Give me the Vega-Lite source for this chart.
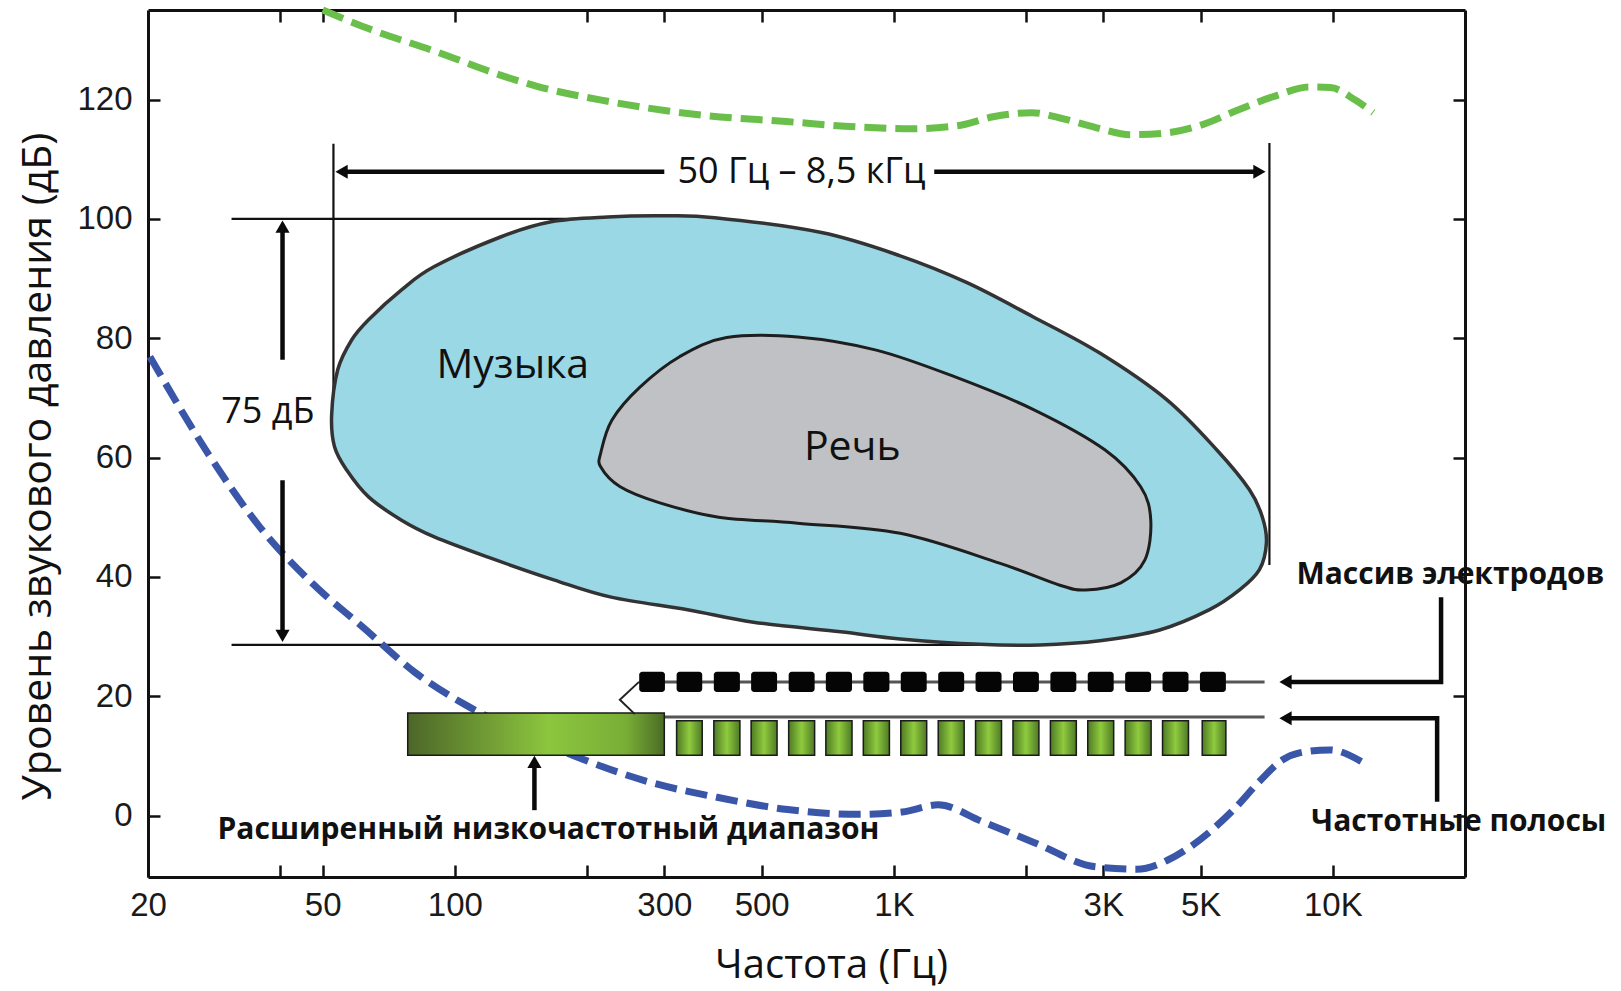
{
  "$schema": "https://vega.github.io/schema/vega-lite/v6.json",
  "width": 1317,
  "height": 867,
  "autosize": {"type": "none"},
  "padding": {"left": 148, "top": 10, "right": 156, "bottom": 114},
  "background": "white",
  "config": {"view": {"stroke": null}},
  "datasets": {
    "green": [
      {"f": 50, "db": 135}, {"f": 64, "db": 131.8}, {"f": 90, "db": 128.1}, {"f": 128, "db": 124.0},
      {"f": 154, "db": 122.2}, {"f": 223, "db": 119.7}, {"f": 363, "db": 117.4}, {"f": 570, "db": 116.3},
      {"f": 826, "db": 115.4}, {"f": 1096, "db": 115.1}, {"f": 1394, "db": 115.6}, {"f": 1683, "db": 117.1},
      {"f": 2063, "db": 117.8}, {"f": 2390, "db": 116.9}, {"f": 2885, "db": 115.3}, {"f": 3466, "db": 114.1},
      {"f": 4180, "db": 114.4}, {"f": 5050, "db": 115.8}, {"f": 6100, "db": 118.3}, {"f": 7330, "db": 120.5},
      {"f": 8840, "db": 122.1}, {"f": 9870, "db": 122.0}, {"f": 11250, "db": 119.9}, {"f": 12360, "db": 117.8}
    ],
    "blue": [
      {"f": 20.2, "db": 76.9}, {"f": 27.5, "db": 60.5}, {"f": 36, "db": 48.3}, {"f": 47.2, "db": 39.0},
      {"f": 61.9, "db": 31.5}, {"f": 81.1, "db": 24.0}, {"f": 106, "db": 18.5}, {"f": 139, "db": 14.2},
      {"f": 193, "db": 9.6}, {"f": 281, "db": 5.5}, {"f": 393, "db": 3.1}, {"f": 573, "db": 1.0},
      {"f": 834, "db": 0.2}, {"f": 1045, "db": 0.6}, {"f": 1262, "db": 1.8}, {"f": 1589, "db": -1.0},
      {"f": 2084, "db": -4.5}, {"f": 2881, "db": -8.6}, {"f": 3577, "db": -9.0}, {"f": 4200, "db": -7.5},
      {"f": 4720, "db": -5.3}, {"f": 5910, "db": 0.8}, {"f": 6840, "db": 5.9}, {"f": 7670, "db": 9.3},
      {"f": 8390, "db": 10.5}, {"f": 9820, "db": 11.0}, {"f": 11780, "db": 8.8}
    ],
    "music": [
      {"o": 1, "f": 52.4, "db": 67.1}, {"o": 2, "f": 54.1, "db": 74.7}, {"o": 3, "f": 58.2, "db": 79.7},
      {"o": 4, "f": 63.6, "db": 83.1}, {"o": 5, "f": 75.6, "db": 88.1}, {"o": 6, "f": 89.8, "db": 92.0},
      {"o": 7, "f": 127.5, "db": 97.0}, {"o": 8, "f": 165.7, "db": 99.5}, {"o": 9, "f": 223, "db": 100.3},
      {"o": 10, "f": 295, "db": 100.5}, {"o": 11, "f": 391, "db": 100.2}, {"o": 12, "f": 684, "db": 97.7},
      {"o": 13, "f": 1034, "db": 93.8}, {"o": 14, "f": 1468, "db": 89.3}, {"o": 15, "f": 2074, "db": 83.6},
      {"o": 16, "f": 2946, "db": 77.5}, {"o": 17, "f": 4183, "db": 69.7}, {"o": 18, "f": 5436, "db": 61.3},
      {"o": 19, "f": 6458, "db": 54.6}, {"o": 20, "f": 6911, "db": 50.0}, {"o": 21, "f": 7058, "db": 45.7},
      {"o": 22, "f": 6804, "db": 41.2}, {"o": 23, "f": 6130, "db": 37.8}, {"o": 24, "f": 5238, "db": 34.5},
      {"o": 25, "f": 4032, "db": 31.1}, {"o": 26, "f": 2946, "db": 29.3}, {"o": 27, "f": 2152, "db": 28.6},
      {"o": 28, "f": 1572, "db": 28.7}, {"o": 29, "f": 1034, "db": 29.6}, {"o": 30, "f": 756, "db": 30.8},
      {"o": 31, "f": 479, "db": 32.4}, {"o": 32, "f": 339, "db": 34.5}, {"o": 33, "f": 227, "db": 36.6},
      {"o": 34, "f": 168, "db": 39.5}, {"o": 35, "f": 119, "db": 43.3}, {"o": 36, "f": 89.8, "db": 46.7},
      {"o": 37, "f": 75.6, "db": 49.5}, {"o": 38, "f": 63.6, "db": 53.4}, {"o": 39, "f": 56.7, "db": 57.9},
      {"o": 40, "f": 53.2, "db": 61.8}
    ],
    "speech": [
      {"o": 1, "f": 215, "db": 60.8}, {"o": 2, "f": 228, "db": 66.3}, {"o": 3, "f": 264, "db": 71.8},
      {"o": 4, "f": 325, "db": 76.9}, {"o": 5, "f": 416, "db": 80.1}, {"o": 6, "f": 604, "db": 80.2},
      {"o": 7, "f": 912, "db": 78.0}, {"o": 8, "f": 1379, "db": 73.5}, {"o": 9, "f": 2086, "db": 68.0},
      {"o": 10, "f": 3024, "db": 61.3}, {"o": 11, "f": 3650, "db": 55.1}, {"o": 12, "f": 3848, "db": 49.5},
      {"o": 13, "f": 3729, "db": 42.8}, {"o": 14, "f": 3288, "db": 39.0}, {"o": 15, "f": 2737, "db": 37.8},
      {"o": 16, "f": 2388, "db": 38.6}, {"o": 17, "f": 1740, "db": 42.3}, {"o": 18, "f": 1034, "db": 47.3},
      {"o": 19, "f": 604, "db": 49.0}, {"o": 20, "f": 399, "db": 50.0}, {"o": 21, "f": 293, "db": 52.4},
      {"o": 22, "f": 238, "db": 55.1}, {"o": 23, "f": 215, "db": 58.4}
    ],
    "thin": [
      {"id": "h100", "o": 1, "f": 31, "db": 100}, {"id": "h100", "o": 2, "f": 223, "db": 100},
      {"id": "h28", "o": 1, "f": 31, "db": 28.6}, {"id": "h28", "o": 2, "f": 2200, "db": 28.6},
      {"id": "vL", "o": 1, "f": 52.9, "db": 112.6}, {"id": "vL", "o": 2, "f": 52.9, "db": 66},
      {"id": "vR", "o": 1, "f": 7170, "db": 112.7}, {"id": "vR", "o": 2, "f": 7170, "db": 42}
    ],
    "thick": [
      {"id": "aL", "o": 1, "f": 55.2, "db": 107.9}, {"id": "aL", "o": 2, "f": 300, "db": 107.9},
      {"id": "aR", "o": 1, "f": 1236, "db": 107.9}, {"id": "aR", "o": 2, "f": 6804, "db": 107.9},
      {"id": "vU", "o": 1, "f": 40.5, "db": 98.7}, {"id": "vU", "o": 2, "f": 40.5, "db": 76.4},
      {"id": "vD", "o": 1, "f": 40.5, "db": 56.2}, {"id": "vD", "o": 2, "f": 40.5, "db": 30.1},
      {"id": "rU", "o": 1, "f": 17640, "db": 36.6}, {"id": "rU", "o": 2, "f": 17640, "db": 22.4}, {"id": "rU", "o": 3, "f": 7800, "db": 22.4},
      {"id": "rD", "o": 1, "f": 17280, "db": 2.3}, {"id": "rD", "o": 2, "f": 17280, "db": 16.3}, {"id": "rD", "o": 3, "f": 7800, "db": 16.3},
      {"id": "up", "o": 1, "f": 151.8, "db": 0.9}, {"id": "up", "o": 2, "f": 151.8, "db": 9.0}
    ],
    "heads": [
      {"dir": "left", "f": 55.2, "db": 107.9}, {"dir": "left", "f": 7800, "db": 22.4}, {"dir": "left", "f": 7800, "db": 16.3},
      {"dir": "right", "f": 6804, "db": 107.9},
      {"dir": "up", "f": 40.5, "db": 98.7}, {"dir": "up", "f": 151.8, "db": 9.0},
      {"dir": "down", "f": 40.5, "db": 30.1}
    ],
    "wires": [
      {"id": "e1", "o": 1, "f": 263, "db": 22.4}, {"id": "e1", "o": 2, "f": 6990, "db": 22.4},
      {"id": "e2", "o": 1, "f": 300, "db": 16.5}, {"id": "e2", "o": 2, "f": 6990, "db": 16.5}
    ],
    "zig": [
      {"o": 1, "f": 262.7, "db": 22.4}, {"o": 2, "f": 237.6, "db": 19.4}, {"o": 3, "f": 257, "db": 17.0}
    ],
    "electrodes": [
      {"f": 263, "f2": 301, "db": 20.7, "db2": 24.1}, {"f": 320, "f2": 366, "db": 20.7, "db2": 24.1},
      {"f": 389, "f2": 446, "db": 20.7, "db2": 24.1}, {"f": 473, "f2": 542, "db": 20.7, "db2": 24.1},
      {"f": 576, "f2": 660, "db": 20.7, "db2": 24.1}, {"f": 700, "f2": 803, "db": 20.7, "db2": 24.1},
      {"f": 852, "f2": 977, "db": 20.7, "db2": 24.1}, {"f": 1037, "f2": 1188, "db": 20.7, "db2": 24.1},
      {"f": 1262, "f2": 1446, "db": 20.7, "db2": 24.1}, {"f": 1535, "f2": 1759, "db": 20.7, "db2": 24.1},
      {"f": 1868, "f2": 2140, "db": 20.7, "db2": 24.1}, {"f": 2273, "f2": 2604, "db": 20.7, "db2": 24.1},
      {"f": 2765, "f2": 3168, "db": 20.7, "db2": 24.1}, {"f": 3364, "f2": 3855, "db": 20.7, "db2": 24.1},
      {"f": 4093, "f2": 4690, "db": 20.7, "db2": 24.1}, {"f": 4980, "f2": 5706, "db": 20.7, "db2": 24.1}
    ],
    "bands": [
      {"f": 320, "f2": 366, "db": 10.1, "db2": 15.9}, {"f": 389, "f2": 446, "db": 10.1, "db2": 15.9},
      {"f": 473, "f2": 542, "db": 10.1, "db2": 15.9}, {"f": 576, "f2": 660, "db": 10.1, "db2": 15.9},
      {"f": 700, "f2": 803, "db": 10.1, "db2": 15.9}, {"f": 852, "f2": 977, "db": 10.1, "db2": 15.9},
      {"f": 1037, "f2": 1188, "db": 10.1, "db2": 15.9}, {"f": 1262, "f2": 1446, "db": 10.1, "db2": 15.9},
      {"f": 1535, "f2": 1759, "db": 10.1, "db2": 15.9}, {"f": 1868, "f2": 2140, "db": 10.1, "db2": 15.9},
      {"f": 2273, "f2": 2604, "db": 10.1, "db2": 15.9}, {"f": 2765, "f2": 3168, "db": 10.1, "db2": 15.9},
      {"f": 3364, "f2": 3855, "db": 10.1, "db2": 15.9}, {"f": 4093, "f2": 4690, "db": 10.1, "db2": 15.9},
      {"f": 5040, "f2": 5706, "db": 10.1, "db2": 15.9}
    ],
    "lowband": [{"f": 78.1, "f2": 300, "db": 10.1, "db2": 17.2}],
    "t40": [{"f": 135.5, "db": 75.4, "text": "Музыка"}, {"f": 804, "db": 61.6, "text": "Речь"}],
    "t36": [{"f": 616, "db": 107.9, "text": "50 Гц – 8,5 кГц"}, {"f": 37.5, "db": 67.6, "text": "75 дБ"}],
    "tbold": [
      {"f": 8260, "db": 40.3, "text": "Массив электродов"},
      {"f": 8934, "db": -1.1, "text": "Частотные полосы"},
      {"f": 28.8, "db": -2.4, "text": "Расширенный низкочастотный диапазон"}
    ]
  },
  "encoding": {
    "x": {"field": "f", "type": "quantitative", "scale": {"type": "log", "domain": [20, 20000], "nice": false}, "axis": null},
    "y": {"field": "db", "type": "quantitative", "scale": {"domain": [-10.3, 135], "nice": false, "zero": false}, "axis": null}
  },
  "layer": [
    {
      "data": {"name": "thin"},
      "mark": {"type": "line", "stroke": "#111", "strokeWidth": 2.2},
      "encoding": {"detail": {"field": "id"}, "order": {"field": "o"}}
    },
    {
      "data": {"name": "music"},
      "mark": {"type": "line", "interpolate": "cardinal-closed", "fill": "#9ad8e6", "stroke": "#333", "strokeWidth": 3.5},
      "encoding": {"order": {"field": "o"}}
    },
    {
      "data": {"name": "speech"},
      "mark": {"type": "line", "interpolate": "cardinal-closed", "fill": "#bfc1c4", "stroke": "#1e1e1e", "strokeWidth": 3},
      "encoding": {"order": {"field": "o"}}
    },
    {
      "data": {"name": "blue"},
      "mark": {"type": "line", "interpolate": "monotone", "stroke": "#3a56a8", "strokeWidth": 7, "strokeDash": [22, 9]},
      "encoding": {
        "x": {
          "field": "f", "type": "quantitative",
          "scale": {"type": "log", "domain": [20, 20000], "nice": false},
          "axis": {
            "orient": "bottom",
            "values": [20, 40, 50, 100, 200, 300, 500, 1000, 2000, 3000, 5000, 10000],
            "labelExpr": "datum.value == 40 || datum.value == 200 || datum.value == 2000 ? '' : datum.value >= 1000 ? (datum.value / 1000) + 'K' : '' + datum.value",
            "grid": false, "tickSize": -12, "tickWidth": 2.5, "tickColor": "#111",
            "domainColor": "#111", "domainWidth": 3,
            "labelFont": "Liberation Sans", "labelFontSize": 33, "labelColor": "#1a1a1a",
            "labelPadding": 24, "labelFlush": false, "labelOverlap": false,
            "title": "Частота (Гц)", "titleFont": "Open Sans", "titleFontSize": 40, "titleFontWeight": "normal",
            "titleColor": "#111", "titleX": 683, "titleY": 88, "titleBaseline": "middle", "titleAlign": "center"
          }
        },
        "y": {
          "field": "db", "type": "quantitative",
          "scale": {"domain": [-10.3, 135], "nice": false, "zero": false},
          "axis": {
            "orient": "left",
            "values": [0, 20, 40, 60, 80, 100, 120],
            "grid": false, "tickSize": -12, "tickWidth": 2.5, "tickColor": "#111",
            "domainColor": "#111", "domainWidth": 3,
            "labelFont": "Liberation Sans", "labelFontSize": 33, "labelColor": "#1a1a1a",
            "labelPadding": 28, "labelOverlap": false,
            "title": "Уровень звукового давления (дБ)", "titleFont": "Open Sans", "titleFontSize": 41, "titleFontWeight": "normal",
            "titleColor": "#111", "titleX": -110, "titleY": 456, "titleAngle": -90, "titleBaseline": "middle", "titleAlign": "center"
          }
        }
      }
    },
    {
      "data": {"name": "green"},
      "mark": {"type": "line", "interpolate": "monotone", "stroke": "#6abf4b", "strokeWidth": 7, "strokeDash": [22, 9]},
      "encoding": {
        "x": {
          "field": "f", "type": "quantitative",
          "scale": {"type": "log", "domain": [20, 20000], "nice": false},
          "axis": {
            "orient": "top", "values": [40, 50, 100, 200, 300, 500, 1000, 2000, 3000, 5000, 10000],
            "labels": false, "title": null, "grid": false, "tickSize": -12, "tickWidth": 2.5, "tickColor": "#111",
            "domainColor": "#111", "domainWidth": 3
          }
        },
        "y": {
          "field": "db", "type": "quantitative",
          "scale": {"domain": [-10.3, 135], "nice": false, "zero": false},
          "axis": {
            "orient": "right", "values": [0, 20, 40, 60, 80, 100, 120],
            "labels": false, "title": null, "grid": false, "tickSize": -12, "tickWidth": 2.5, "tickColor": "#111",
            "domainColor": "#111", "domainWidth": 3
          }
        }
      }
    },
    {
      "data": {"name": "wires"},
      "mark": {"type": "line", "stroke": "#555", "strokeWidth": 3},
      "encoding": {"detail": {"field": "id"}, "order": {"field": "o"}}
    },
    {
      "data": {"name": "electrodes"},
      "mark": {"type": "rect", "fill": "#050505", "cornerRadius": 3},
      "encoding": {"x2": {"field": "f2"}, "y2": {"field": "db2"}}
    },
    {
      "data": {"name": "bands"},
      "mark": {
        "type": "rect", "stroke": "#1a1a1a", "strokeWidth": 1.5,
        "fill": {"gradient": "linear", "x1": 0, "y1": 0, "x2": 1, "y2": 0,
          "stops": [{"offset": 0, "color": "#4e7a25"}, {"offset": 0.5, "color": "#8fcb3e"}, {"offset": 1, "color": "#4e7a25"}]}
      },
      "encoding": {"x2": {"field": "f2"}, "y2": {"field": "db2"}}
    },
    {
      "data": {"name": "lowband"},
      "mark": {
        "type": "rect", "stroke": "#1a1a1a", "strokeWidth": 1.5,
        "fill": {"gradient": "linear", "x1": 0, "y1": 0, "x2": 1, "y2": 0,
          "stops": [{"offset": 0, "color": "#4d6628"}, {"offset": 0.55, "color": "#8cc63e"}, {"offset": 0.85, "color": "#79ae36"}, {"offset": 1, "color": "#4b6b26"}]}
      },
      "encoding": {"x2": {"field": "f2"}, "y2": {"field": "db2"}}
    },
    {
      "data": {"name": "zig"},
      "mark": {"type": "line", "stroke": "#222", "strokeWidth": 2},
      "encoding": {"order": {"field": "o"}}
    },
    {
      "data": {"name": "thick"},
      "mark": {"type": "line", "stroke": "#0a0a0a", "strokeWidth": 4.5},
      "encoding": {"detail": {"field": "id"}, "order": {"field": "o"}}
    },
    {
      "data": {"name": "heads"},
      "transform": [{"filter": "datum.dir == 'left'"}],
      "mark": {"type": "point", "shape": "triangle-left", "filled": true, "color": "#0a0a0a", "size": 200, "opacity": 1}
    },
    {
      "data": {"name": "heads"},
      "transform": [{"filter": "datum.dir == 'right'"}],
      "mark": {"type": "point", "shape": "triangle-right", "filled": true, "color": "#0a0a0a", "size": 200, "opacity": 1}
    },
    {
      "data": {"name": "heads"},
      "transform": [{"filter": "datum.dir == 'up'"}],
      "mark": {"type": "point", "shape": "triangle-up", "filled": true, "color": "#0a0a0a", "size": 200, "opacity": 1}
    },
    {
      "data": {"name": "heads"},
      "transform": [{"filter": "datum.dir == 'down'"}],
      "mark": {"type": "point", "shape": "triangle-down", "filled": true, "color": "#0a0a0a", "size": 200, "opacity": 1}
    },
    {
      "data": {"name": "t40"},
      "mark": {"type": "text", "font": "Open Sans", "fontSize": 41, "color": "#111", "align": "center", "baseline": "middle"},
      "encoding": {"text": {"field": "text"}}
    },
    {
      "data": {"name": "t36"},
      "mark": {"type": "text", "font": "Open Sans", "fontSize": 36, "color": "#111", "align": "center", "baseline": "middle"},
      "encoding": {"text": {"field": "text"}}
    },
    {
      "data": {"name": "tbold"},
      "mark": {"type": "text", "font": "Open Sans", "fontSize": 30, "fontWeight": "bold", "color": "#111", "align": "left", "baseline": "middle"},
      "encoding": {"text": {"field": "text"}}
    }
  ],
  "resolve": {"axis": {"x": "independent", "y": "independent"}}
}
